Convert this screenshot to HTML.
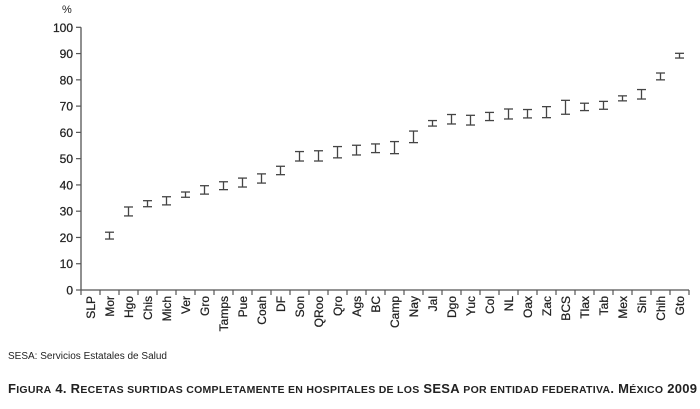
<!DOCTYPE html>
<html><head><meta charset="utf-8"><style>
body{margin:0;background:#fff;width:700px;height:404px;overflow:hidden;font-family:"Liberation Sans",sans-serif;}
svg text{font-family:"Liberation Sans",sans-serif;fill:#222;}
</style></head><body>
<svg id="chart" width="700" height="404" xmlns="http://www.w3.org/2000/svg"></svg>
<script>
const categories=["SLP","Mor","Hgo","Chis","Mich","Ver","Gro","Tamps","Pue","Coah","DF","Son","QRoo","Qro","Ags","BC","Camp","Nay","Jal","Dgo","Yuc","Col","NL","Oax","Zac","BCS","Tlax","Tab","Mex","Sin","Chih","Gto"];
const lowValues=[null,19.4,28.2,31.7,32.4,35.3,36.5,38.2,39.2,40.7,43.9,49.1,49.1,50.3,51.4,52.3,51.9,56.1,62.4,63.2,62.8,64.5,65.1,65.5,65.6,66.9,68.3,68.8,72.0,72.7,80.0,88.3];
const highValues=[null,22.0,31.6,34.0,35.5,37.3,39.7,41.2,42.6,44.2,47.1,52.7,53.0,54.6,55.1,55.6,56.5,60.5,64.5,66.8,66.5,67.6,68.9,68.7,69.8,72.2,71.1,71.8,73.9,76.3,82.6,90.1];
const yTicks=[0,10,20,30,40,50,60,70,80,90,100];
const svg=document.getElementById('chart');
const NS='http://www.w3.org/2000/svg';
const x0=81,x1=689,yBase=290,yTop=27.3;
const bw=(x1-x0)/categories.length;
function xScale(i){return x0+bw*(i+0.5);}
function yScale(v){return yBase-(yBase-yTop)*v/100;}
function mk(tag,attrs,parent){const e=document.createElementNS(NS,tag);for(const k in attrs)e.setAttribute(k,attrs[k]);(parent||svg).appendChild(e);return e;}
const ax=mk('g',{});


mk('line',{x1:x0,y1:yTop,x2:x0,y2:yBase,stroke:'#555','stroke-width':1.3},ax);
mk('line',{x1:x0,y1:yBase,x2:x1,y2:yBase,stroke:'#555','stroke-width':1.3},ax);
yTicks.forEach(t=>{
  const y=yScale(t);
  mk('line',{x1:x0-5,y1:y,x2:x0,y2:y,stroke:'#555','stroke-width':1.2},ax);
  const tx=mk('text',{x:x0-8,y:y+4.5,'text-anchor':'end','font-size':12,'stroke':'#222','stroke-width':0.25},ax);
  
  
  tx.textContent=t;
});
const pt=mk('text',{x:62,y:13,'font-size':11});


pt.textContent='%';
for(let i=0;i<=categories.length;i++){
  const x=x0+bw*i;
  mk('line',{x1:x,y1:yBase,x2:x,y2:yBase+5,stroke:'#555','stroke-width':1.2},ax);
}
categories.forEach((c,i)=>{
  const x=xScale(i);
  const t=mk('text',{x:0,y:0,'text-anchor':'end','font-size':12,'stroke':'#222','stroke-width':0.25,transform:`translate(${x+4.5},${yBase+6}) rotate(-90)`});
  
  
  t.textContent=c;
  if(lowValues[i]==null)return;
  const g=mk('g',{stroke:'#444','stroke-width':1.3});
  
  
  const yl=yScale(lowValues[i]),yh=yScale(highValues[i]);
  mk('line',{x1:x,y1:yl,x2:x,y2:yh},g);
  mk('line',{x1:x-4.5,y1:yl,x2:x+4.5,y2:yl},g);
  mk('line',{x1:x-4.5,y1:yh,x2:x+4.5,y2:yh},g);
});
const s=mk('text',{x:8,y:359,'font-size':10});


s.textContent='SESA: Servicios Estatales de Salud';
const cap=mk('text',{x:8,y:393,'font-size':13,'font-weight':'bold',textLength:689,lengthAdjust:'spacing'});


cap.innerHTML='F<tspan font-size="10.5">IGURA</tspan> 4. R<tspan font-size="10.5">ECETAS SURTIDAS COMPLETAMENTE EN HOSPITALES DE LOS</tspan> SESA <tspan font-size="10.5">POR ENTIDAD FEDERATIVA</tspan>. M<tspan font-size="10.5">ÉXICO</tspan> 2009';
</script>
</body></html>
